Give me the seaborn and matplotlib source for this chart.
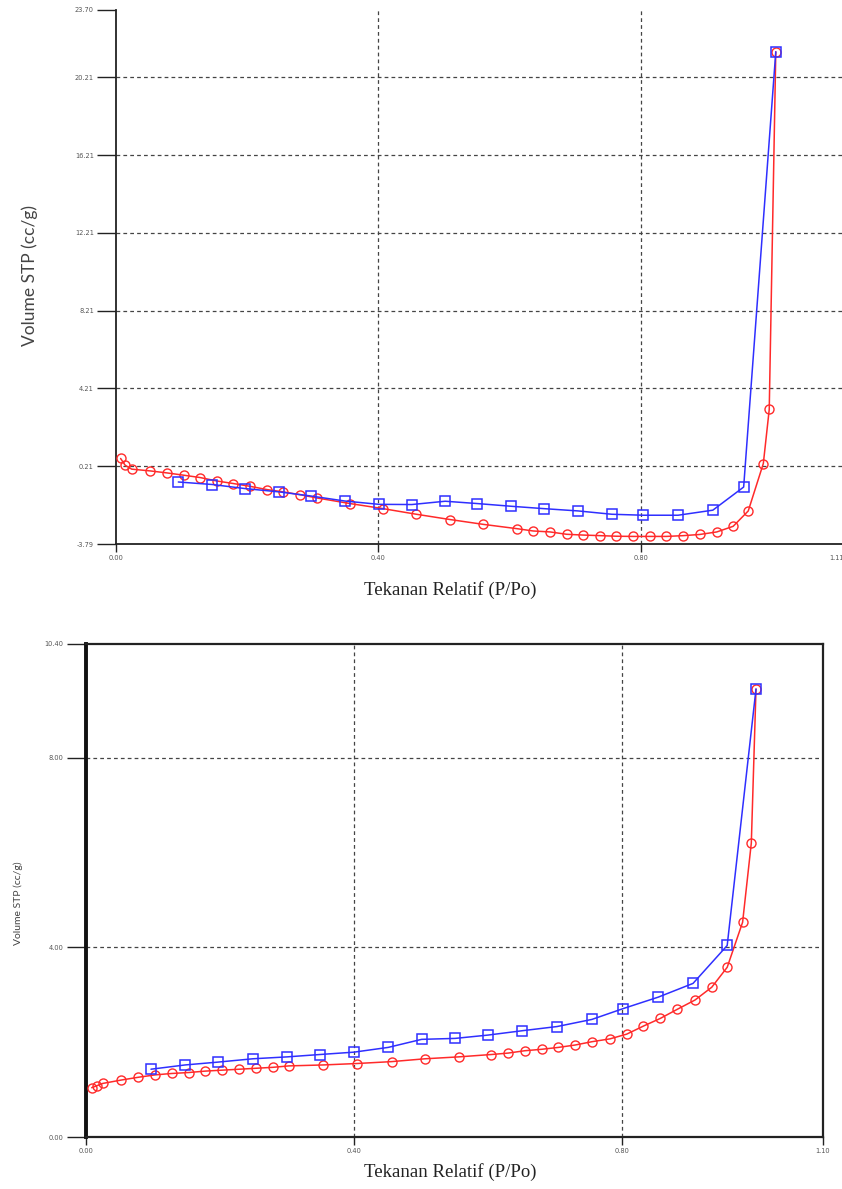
import matplotlib
matplotlib.use("Agg")
import matplotlib.pyplot as plt
import seaborn as sns
import pandas as pd

sns.set_style("white")
plt.rcParams['font.family'] = ['DejaVu Sans']

# ---------------- data: top chart ----------------
top_ads_x = [0.007, 0.014, 0.024, 0.052, 0.077, 0.103, 0.128, 0.154, 0.179, 0.204,
             0.230, 0.255, 0.280, 0.306, 0.357, 0.407, 0.458, 0.509, 0.560, 0.611,
             0.636, 0.662, 0.687, 0.712, 0.738, 0.763, 0.789, 0.814, 0.839, 0.865,
             0.890, 0.916, 0.941, 0.964, 0.987, 0.996, 1.006]
top_ads_y = [0.61, 0.26, 0.06, -0.03, -0.13, -0.25, -0.37, -0.55, -0.68, -0.82,
             -0.99, -1.11, -1.25, -1.42, -1.71, -1.97, -2.26, -2.53, -2.78, -3.00,
             -3.12, -3.17, -3.29, -3.33, -3.36, -3.39, -3.40, -3.40, -3.40, -3.36,
             -3.30, -3.17, -2.88, -2.09, 0.35, 3.13, 21.53]
top_des_x = [0.095, 0.147, 0.197, 0.249, 0.297, 0.349, 0.401, 0.451, 0.502, 0.551,
             0.603, 0.652, 0.705, 0.756, 0.804, 0.857, 0.910, 0.957, 1.006]
top_des_y = [-0.60, -0.73, -0.94, -1.11, -1.32, -1.58, -1.75, -1.76, -1.59, -1.71,
             -1.85, -1.97, -2.09, -2.26, -2.31, -2.31, -2.05, -0.86, 21.53]
top_yticks = [-3.79, 0.21, 4.21, 8.21, 12.21, 16.21, 20.21, 23.70]
top_xticks = [0.00, 0.40, 0.80, 1.11]

# ---------------- data: bottom chart ----------------
bot_ads_x = [0.0085, 0.016, 0.025, 0.052, 0.078, 0.103, 0.128, 0.153, 0.178, 0.203,
             0.229, 0.254, 0.279, 0.303, 0.354, 0.404, 0.456, 0.506, 0.556, 0.605,
             0.630, 0.655, 0.680, 0.705, 0.730, 0.755, 0.782, 0.807, 0.832, 0.857,
             0.882, 0.909, 0.934, 0.957, 0.980, 0.993, 1.000]
bot_ads_y = [1.04, 1.08, 1.13, 1.20, 1.26, 1.31, 1.34, 1.36, 1.39, 1.41,
             1.43, 1.45, 1.47, 1.50, 1.52, 1.55, 1.59, 1.65, 1.69, 1.74,
             1.77, 1.82, 1.85, 1.89, 1.94, 2.01, 2.07, 2.17, 2.34, 2.50,
             2.69, 2.89, 3.16, 3.58, 4.53, 6.20, 9.45]
bot_des_x = [0.097, 0.148, 0.197, 0.249, 0.300, 0.349, 0.400, 0.451, 0.501, 0.551,
             0.600, 0.650, 0.703, 0.755, 0.802, 0.854, 0.906, 0.957, 1.000]
bot_des_y = [1.43, 1.52, 1.58, 1.65, 1.69, 1.74, 1.79, 1.89, 2.06, 2.08,
             2.15, 2.24, 2.33, 2.48, 2.71, 2.95, 3.24, 4.04, 9.45]
bot_yticks = [0.00, 4.00, 8.00, 10.40]
bot_xticks = [0.00, 0.40, 0.80, 1.10]

x_label = "Tekanan Relatif (P/Po)"
y_label = "Volume STP (cc/g)"

RED = "#ff2a2a"
BLUE = "#2f2fff"

W, H = 842, 1189
fig = plt.figure(figsize=(W / 100, H / 100), dpi=100)
fig.patch.set_facecolor("white")


def px_axes(l, r, t, b):
    return fig.add_axes([l / W, 1 - b / H, (r - l) / W, (b - t) / H])


def draw(ax, ads_x, ads_y, des_x, des_y, xlim, ylim, xticks, yticks, ms):
    ads = pd.DataFrame({"x": ads_x, "y": ads_y})
    des = pd.DataFrame({"x": des_x, "y": des_y})
    sns.lineplot(data=ads, x="x", y="y", ax=ax, sort=False, estimator=None,
                 color=RED, lw=1.1, marker="o", ms=ms, mfc="none", mec=RED, mew=1.0,
                 zorder=3)
    sns.lineplot(data=des, x="x", y="y", ax=ax, sort=False, estimator=None,
                 color=BLUE, lw=1.1, marker="s", ms=ms, mfc="none", mec=BLUE, mew=1.1,
                 zorder=4)
    ax.set_xlim(*xlim)
    ax.set_ylim(*ylim)
    ax.set_xticks(xticks)
    ax.set_yticks(yticks)
    ax.set_xticklabels([f"{v:.2f}" for v in xticks])
    ax.set_yticklabels([f"{v:.2f}" for v in yticks])
    ax.set_xlabel("")
    ax.set_ylabel("")
    ax.tick_params(axis="y", left=True, direction="out", length=14, width=1.0,
                   color="#222222", labelsize=4.8, labelcolor="#555555", pad=2)
    ax.tick_params(axis="x", bottom=True, direction="out", length=6, width=1.0,
                   color="#222222", labelsize=4.8, labelcolor="#555555", pad=2)
    for v in xticks[1:-1]:
        ax.axvline(v, color="#444444", lw=0.9, ls=(0, (3, 2.5)), zorder=1)
    for v in yticks[1:-1]:
        ax.axhline(v, color="#444444", lw=0.9, ls=(0, (3, 2.5)), zorder=1)
    ax.set_facecolor("white")


# top chart
ax1 = px_axes(116, 844, 9.6, 544)
draw(ax1, top_ads_x, top_ads_y, top_des_x, top_des_y, (0, 1.11), (-3.79, 23.70),
     top_xticks, top_yticks, 6.5)
for s in ["top", "right"]:
    ax1.spines[s].set_visible(False)
ax1.spines["left"].set_linewidth(1.3)
ax1.spines["bottom"].set_linewidth(1.3)
ax1.spines["left"].set_color("#222222")
ax1.spines["bottom"].set_color("#222222")
ax1.get_xticklabels()[-1].set_ha("right")

# bottom chart
ax2 = px_axes(86, 823, 644, 1137)
draw(ax2, bot_ads_x, bot_ads_y, bot_des_x, bot_des_y, (0, 1.10), (0, 10.40),
     bot_xticks, bot_yticks, 6.5)
for s in ["top", "right", "bottom"]:
    ax2.spines[s].set_linewidth(1.6)
    ax2.spines[s].set_color("#222222")
ax2.spines["left"].set_linewidth(2.8)
ax2.spines["left"].set_color("#111111")

# labels
fig.text(450 / W, 1 - 590 / H, x_label, family="Liberation Serif", fontsize=13.5,
         color="#222222", ha="center", va="center")
fig.text(450 / W, 1 - 1172 / H, x_label, family="Liberation Serif", fontsize=13.5,
         color="#222222", ha="center", va="center")
fig.text(30 / W, 1 - 275 / H, y_label, family="Lato", fontsize=12.5, color="#444444",
         rotation=90, ha="center", va="center")
fig.text(18 / W, 1 - 903 / H, y_label, family="Lato", fontsize=7.5, color="#444444",
         rotation=90, ha="center", va="center")

fig.savefig("out.png", dpi=100, facecolor="white")
